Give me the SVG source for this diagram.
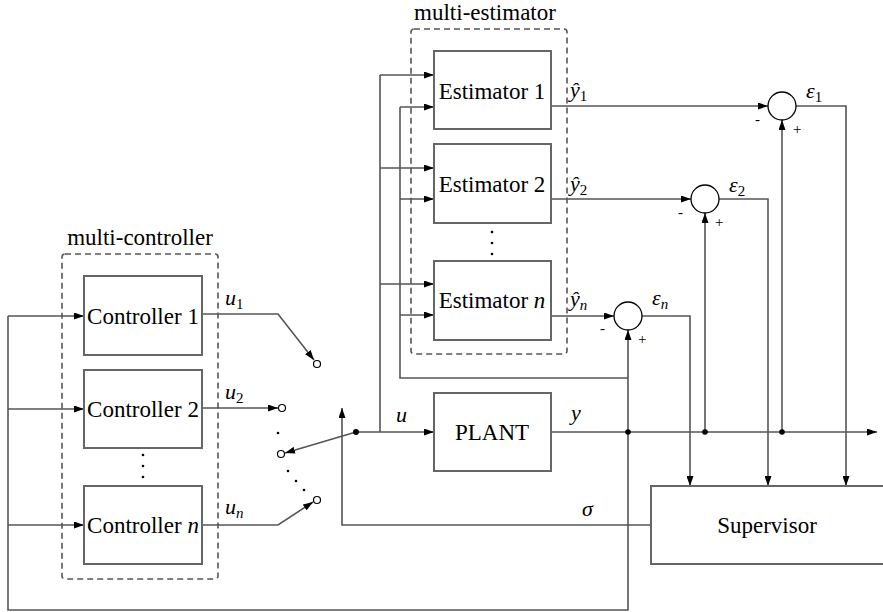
<svg xmlns="http://www.w3.org/2000/svg" width="883" height="612" viewBox="0 0 883 612">
<defs>
<marker id="arr" viewBox="0 0 10 7" refX="10" refY="3.5" markerWidth="10" markerHeight="7" markerUnits="userSpaceOnUse" orient="auto">
<path d="M0,0 L10,3.5 L0,7 z" fill="#000"/>
</marker>
<style>
text{font-family:'Liberation Serif','Times New Roman','DejaVu Serif',serif}
.box{fill:#fff;stroke:#666;stroke-width:2}
.dash{fill:none;stroke:#555;stroke-width:1.6;stroke-dasharray:6,4}
.ln{fill:none;stroke:#555;stroke-width:1.6}
.la{fill:none;stroke:#555;stroke-width:1.6;marker-end:url(#arr)}
.sum{fill:#fff;stroke:#000;stroke-width:1.3}
.oc{fill:#fff;stroke:#000;stroke-width:1.2}
.t{font-size:23px;fill:#000}
.m{font-size:22px;font-style:italic;fill:#000}
.s{font-size:15px;font-style:normal}
.si{font-size:15px;font-style:italic}
.pm{font-size:15px;fill:#000}
</style>
</defs>
<rect width="883" height="612" fill="#fff"/>

<g id="connectors">
<path class="ln" d="M628,432 L628,610 L8,610 L8,316"/>
<path class="la" d="M8,316 L84,316"/>
<path class="la" d="M8,409 L84,409"/>
<path class="la" d="M8,525 L84,525"/>
<path class="la" d="M202,314 L278,314 L314,360"/>
<path class="la" d="M202,408 L278,408"/>
<path class="la" d="M202,525 L278,525 L313,502"/>
<path class="la" d="M356,432 L285,453"/>
<path class="la" d="M356,432 L434,432"/>
<path class="ln" d="M380,432 L380,75"/>
<path class="la" d="M380,75 L434,75"/>
<path class="la" d="M380,168 L434,168"/>
<path class="la" d="M380,284 L434,284"/>
<path class="ln" d="M628,378 L400,378 L400,107"/>
<path class="la" d="M400,107 L434,107"/>
<path class="la" d="M400,199 L434,199"/>
<path class="la" d="M400,315 L434,315"/>
<path class="la" d="M551,432 L877,432"/>
<path class="la" d="M551,106 L768,106"/>
<path class="la" d="M551,199 L691,199"/>
<path class="la" d="M551,316 L614,316"/>
<path class="la" d="M782,432 L782,120"/>
<path class="la" d="M705,432 L705,213"/>
<path class="la" d="M628,432 L628,330"/>
<path class="la" d="M796,106 L846,106 L846,486"/>
<path class="la" d="M719,199 L768,199 L768,486"/>
<path class="la" d="M642,316 L690,316 L690,486"/>
<path class="la" d="M651,525 L342,525 L342,408"/>
<circle cx="356" cy="432" r="3" fill="#000"/>
<circle cx="628" cy="432" r="2.8" fill="#000"/>
<circle cx="705" cy="432" r="2.8" fill="#000"/>
<circle cx="782" cy="432" r="2.8" fill="#000"/>
<circle class="oc" cx="317" cy="364" r="3.5"/>
<circle class="oc" cx="282" cy="408" r="3.5"/>
<circle class="oc" cx="281" cy="454" r="3.5"/>
<circle class="oc" cx="317" cy="500" r="3.5"/>
<circle cx="278" cy="433" r="1.3" fill="#000"/>
<circle cx="288" cy="471" r="1.3" fill="#000"/>
<circle cx="296" cy="481" r="1.3" fill="#000"/>
<circle cx="304" cy="490" r="1.3" fill="#000"/>
</g>

<g id="multi-controller">
<rect class="dash" x="62" y="254" width="156" height="325" rx="3"/>
<text class="t" x="140" y="245" text-anchor="middle">multi-controller</text>
</g>
<g id="multi-estimator">
<rect class="dash" x="411" y="29" width="156" height="325" rx="3"/>
<text class="t" x="485" y="20" text-anchor="middle">multi-estimator</text>
</g>

<g id="controller1">
<rect class="box" x="84" y="276" width="118" height="79"/>
<text class="t" x="143" y="324" text-anchor="middle">Controller 1</text>
</g>
<g id="controller2">
<rect class="box" x="84" y="370" width="118" height="78"/>
<text class="t" x="143" y="417" text-anchor="middle">Controller 2</text>
</g>
<g id="controller-dots">
<circle cx="143" cy="455" r="1.3" fill="#000"/>
<circle cx="143" cy="466" r="1.3" fill="#000"/>
<circle cx="143" cy="477" r="1.3" fill="#000"/>
</g>
<g id="controllern">
<rect class="box" x="84" y="486" width="118" height="78"/>
<text class="t" x="143" y="533" text-anchor="middle">Controller <tspan font-style="italic">n</tspan></text>
</g>

<g id="estimator1">
<rect class="box" x="434" y="51" width="117" height="78"/>
<text class="t" x="492" y="99" text-anchor="middle">Estimator 1</text>
</g>
<g id="estimator2">
<rect class="box" x="434" y="144" width="117" height="79"/>
<text class="t" x="492" y="192" text-anchor="middle">Estimator 2</text>
</g>
<g id="estimator-dots">
<circle cx="492" cy="232" r="1.3" fill="#000"/>
<circle cx="492" cy="243" r="1.3" fill="#000"/>
<circle cx="492" cy="254" r="1.3" fill="#000"/>
</g>
<g id="estimatorn">
<rect class="box" x="434" y="261" width="117" height="79"/>
<text class="t" x="492" y="308" text-anchor="middle">Estimator <tspan font-style="italic">n</tspan></text>
</g>

<g id="plant">
<rect class="box" x="434" y="393" width="117" height="78"/>
<text class="t" x="492" y="440" text-anchor="middle">PLANT</text>
</g>

<g id="supervisor">
<path class="box" d="M890,486 L651,486 L651,564 L890,564"/>
<text class="t" x="767" y="533" text-anchor="middle">Supervisor</text>
</g>

<g id="sum1">
<circle class="sum" cx="782" cy="106" r="14"/>
<text class="pm" x="755" y="124">-</text>
<text class="pm" x="793" y="134">+</text>
</g>
<g id="sum2">
<circle class="sum" cx="705" cy="199" r="14"/>
<text class="pm" x="678" y="217">-</text>
<text class="pm" x="715" y="227">+</text>
</g>
<g id="sumn">
<circle class="sum" cx="628" cy="316" r="14"/>
<text class="pm" x="600" y="333">-</text>
<text class="pm" x="638" y="344">+</text>
</g>

<g id="labels">
<text class="m" x="225" y="305">u<tspan class="s" dy="4">1</tspan></text>
<text class="m" x="225" y="399">u<tspan class="s" dy="4">2</tspan></text>
<text class="m" x="225" y="514">u<tspan class="si" dy="4">n</tspan></text>
<text class="m" x="396" y="422">u</text>
<text class="m" x="571" y="420">y</text>
<text class="m" x="582" y="516">σ</text>
<text class="m" x="570" y="97">ŷ<tspan class="s" dy="4">1</tspan></text>
<text class="m" x="570" y="191">ŷ<tspan class="s" dy="4">2</tspan></text>
<text class="m" x="570" y="306">ŷ<tspan class="si" dy="4">n</tspan></text>
<text class="m" x="806" y="98">ε<tspan class="s" dy="4">1</tspan></text>
<text class="m" x="729" y="192">ε<tspan class="s" dy="4">2</tspan></text>
<text class="m" x="652" y="305">ε<tspan class="si" dy="4">n</tspan></text>
</g>
</svg>
